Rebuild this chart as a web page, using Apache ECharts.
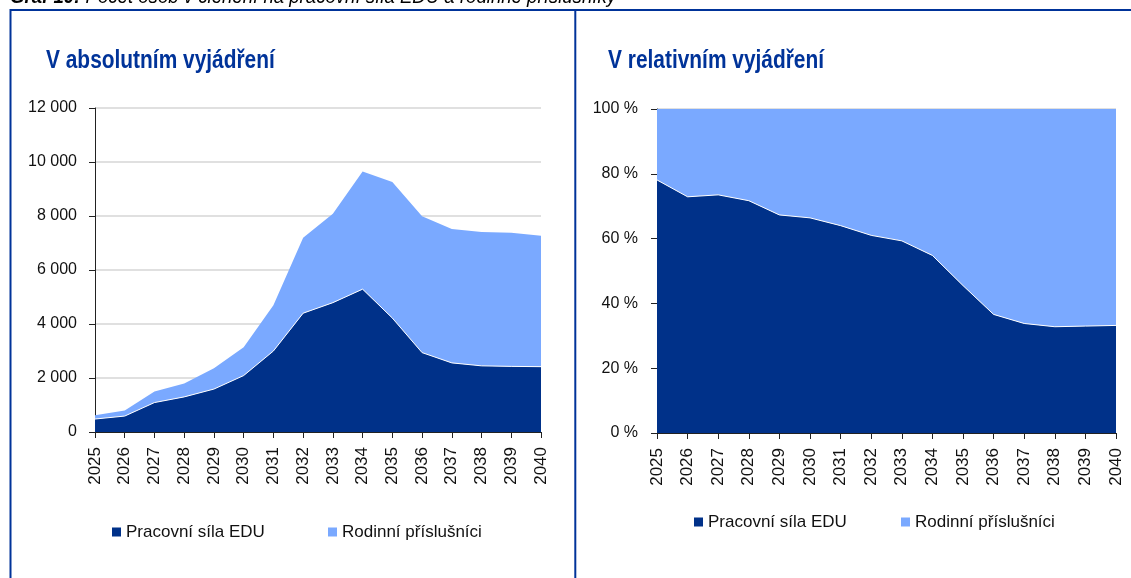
<!DOCTYPE html>
<html>
<head>
<meta charset="utf-8">
<script src="https://cdn.jsdelivr.net/npm/echarts@6/dist/echarts.min.js"></script>
<style>
  html, body { margin: 0; padding: 0; background: #fff; }
  #graf { width: 1131px; height: 578px; }
</style>
</head>
<body>
<div id="graf"></div>
<script>
// roky na ose x
const roky = ['2025', '2026', '2027', '2028', '2029', '2030', '2031', '2032',
  '2033', '2034', '2035', '2036', '2037', '2038', '2039', '2040'];
// absolutní počty osob
const pracovniSilaAbs = [480, 590, 1090, 1300, 1590, 2090, 3000, 4400, 4790, 5290, 4220, 2940, 2560, 2450, 2430, 2420];
const rodinniAbs = [140, 210, 410, 500, 770, 1050, 1690, 2790, 3290, 4360, 5040, 5050, 4960, 4960, 4950, 4850];
// podíly v %
const pracovniSilaRel = [78.1, 72.9, 73.5, 71.7, 67.3, 66.4, 64.0, 61.0, 59.3, 54.8, 45.5, 36.6, 33.8, 32.8, 33.0, 33.2];
const rodinniRel = [21.9, 27.1, 26.5, 28.3, 32.7, 33.6, 36.0, 39.0, 40.7, 45.2, 54.5, 63.4, 66.2, 67.2, 67.0, 66.8];
// popisky osy y
const popiskyAbs = ['0', '2 000', '4 000', '6 000', '8 000', '10 000', '12 000'];
const popiskyRel = ['0 %', '20 %', '40 %', '60 %', '80 %', '100 %'];

const FONT = "'Liberation Sans', Arial, sans-serif";
const TMAVA = '#003189';
const SVETLA = '#7AA9FF';
const MODRA = '#003399';

const chart = echarts.init(document.getElementById('graf'));

function osaX(grid) {
  return {
    type: 'category',
    gridIndex: grid,
    data: roky,
    boundaryGap: false,
    axisLine: { lineStyle: { color: '#222', width: 1 } },
    axisTick: { length: 6, lineStyle: { color: '#222' }, interval: 0 },
    axisLabel: { rotate: 90, interval: 0, margin: 15, fontFamily: FONT, fontSize: 17, color: '#111' },
    splitLine: { show: false }
  };
}

function osaY(grid, max, interval, popisky, margin) {
  return {
    type: 'value',
    gridIndex: grid,
    min: 0,
    max: max,
    interval: interval,
    axisLine: { show: true, lineStyle: { color: '#222', width: 1 } },
    axisTick: { show: true, length: 6, lineStyle: { color: '#222' } },
    axisLabel: {
      margin: margin, fontFamily: FONT, fontSize: 16, color: '#111',
      formatter: v => popisky[Math.round(v / interval)]
    },
    splitLine: { show: true, lineStyle: { color: '#D6D6D6', width: 1.5 } }
  };
}

function plocha(name, grid, stack, data, color, line) {
  return {
    name: name,
    type: 'line',
    xAxisIndex: grid,
    yAxisIndex: grid,
    stack: stack,
    data: data,
    color: color,
    symbol: 'none',
    z: line ? 3 : 2,
    lineStyle: line ? { color: '#fff', width: 1 } : { width: 0 },
    areaStyle: { color: color, opacity: 1 },
    emphasis: { disabled: true }
  };
}

function legenda(nazev, left, top) {
  return {
    data: [nazev],
    left: left,
    top: top,
    padding: 0,
    icon: 'rect',
    itemWidth: 9,
    itemHeight: 9,
    textStyle: { fontFamily: FONT, fontSize: 17, color: '#111', lineHeight: 20 }
  };
}

// nadpis jako zúžený text
function nadpis(text, x) {
  return {
    type: 'text', x: x, y: 49, scaleX: 0.836, originX: 0, silent: true,
    style: { text: text, font: 'bold 25px ' + FONT, fill: MODRA }
  };
}

const option = {
  animation: false,
  legend: [
    legenda('Pracovní síla EDU', 112, 522),
    legenda('Rodinní příslušníci', 328, 522),
    legenda('Pracovní síla EDU', 694, 512),
    legenda('Rodinní příslušníci', 901, 512)
  ],
  grid: [
    { left: 95, top: 108, width: 446, height: 324, containLabel: false },
    { left: 657, top: 109, width: 459, height: 324, containLabel: false }
  ],
  xAxis: [osaX(0), osaX(1)],
  yAxis: [osaY(0, 12000, 2000, popiskyAbs, 18), osaY(1, 100, 20, popiskyRel, 19)],
  series: [
    plocha('Pracovní síla EDU', 0, 'abs', pracovniSilaAbs, TMAVA, true),
    plocha('Rodinní příslušníci', 0, 'abs', rodinniAbs, SVETLA, false),
    plocha('Pracovní síla EDU', 1, 'rel', pracovniSilaRel, TMAVA, true),
    plocha('Rodinní příslušníci', 1, 'rel', rodinniRel, SVETLA, false)
  ],
  graphic: [
    { type: 'rect', shape: { x: 10.5, y: 10, width: 1140, height: 600 },
      style: { fill: 'none', stroke: MODRA, lineWidth: 2 }, silent: true },
    { type: 'line', shape: { x1: 575.3, y1: 10, x2: 575.3, y2: 600 },
      style: { stroke: MODRA, lineWidth: 2 }, silent: true },
    nadpis('V absolutním vyjádření', 46),
    nadpis('V relativním vyjádření', 608),
    { type: 'text', x: 10, y: -13, scaleX: 0.886, originX: 0, silent: true,
      style: {
        text: '{b|Graf 10:} Počet osob v členění na pracovní síla EDU a rodinné příslušníky',
        font: 'italic 21px ' + FONT, fill: '#000',
        rich: { b: { fontWeight: 'bold', fontStyle: 'italic', fontFamily: FONT, fontSize: 21 } }
      } }
  ]
};

chart.setOption(option);
</script>
</body>
</html>
